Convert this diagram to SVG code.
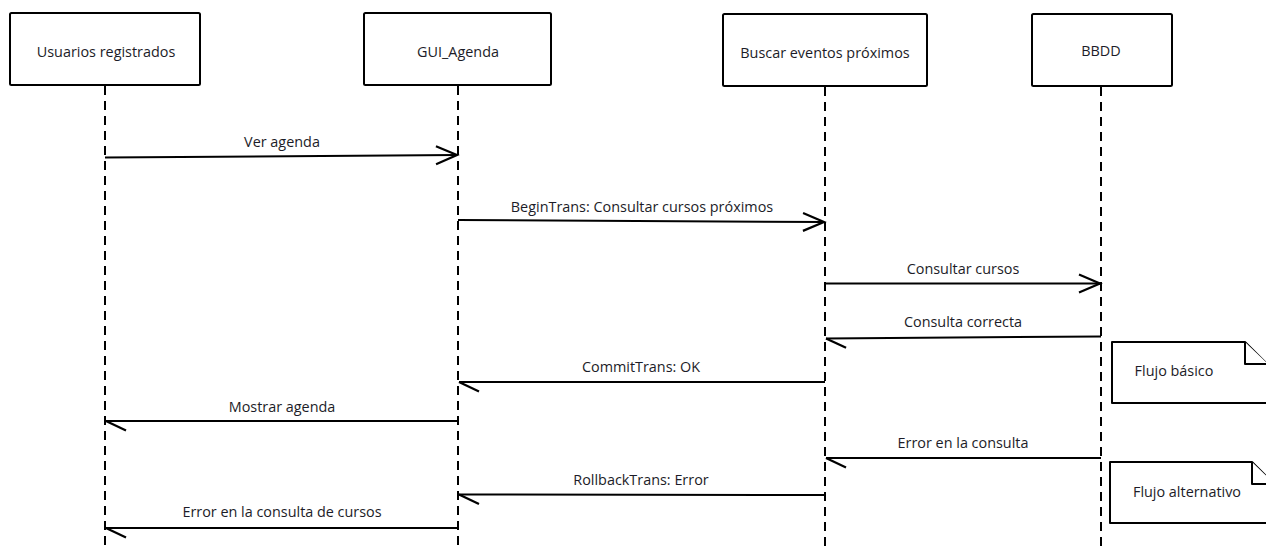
<svg xmlns="http://www.w3.org/2000/svg" width="1266" height="550" viewBox="0 0 1266 550">
<defs>
<style>
.box{fill:#fff;stroke:#000;stroke-width:2}
.life{stroke:#000;stroke-width:2;stroke-dasharray:9 6;fill:none}
.msg{stroke:#000;stroke-width:2;fill:none}
.call{marker-end:url(#open)}
.ret{marker-end:url(#half)}
text{font-family:"Open Sans","DejaVu Sans",sans-serif;font-size:14.4px;fill:#1c1c28;text-anchor:middle}
.note{fill:#fff;stroke:#000;stroke-width:2;stroke-linejoin:round}
</style>
<marker id="open" markerUnits="userSpaceOnUse" viewBox="-24 -12 26 24" refX="0" refY="0" markerWidth="26" markerHeight="24" orient="auto" overflow="visible">
<path d="M-21,-9 L0,0 L-21,9" fill="none" stroke="#000" stroke-width="2.2"/>
</marker>
<marker id="half" markerUnits="userSpaceOnUse" viewBox="-24 -12 26 24" refX="0" refY="0" markerWidth="26" markerHeight="24" orient="auto" overflow="visible">
<path d="M0,0 L-20,-9.5" fill="none" stroke="#000" stroke-width="2.2"/>
</marker>
</defs>
<rect width="1266" height="550" fill="#fff"/>

<g id="lifelines">
<line class="life" x1="105" y1="86" x2="105" y2="550"/>
<line class="life" x1="458" y1="86" x2="458" y2="550"/>
<line class="life" x1="825" y1="87" x2="825" y2="550"/>
<line class="life" x1="1101" y1="87" x2="1101" y2="550"/>
</g>

<g id="usuarios">
<rect class="box" x="10" y="13" width="190" height="72" rx="1.5"/>
<text x="106" y="57">Usuarios registrados</text>
</g>
<g id="gui_agenda">
<rect class="box" x="364" y="13" width="187" height="72" rx="1.5"/>
<text x="458" y="57">GUI_Agenda</text>
</g>
<g id="buscar">
<rect class="box" x="723" y="14" width="204" height="72" rx="1.5"/>
<text x="825" y="58">Buscar eventos próximos</text>
</g>
<g id="bbdd">
<rect class="box" x="1032" y="14" width="140" height="72" rx="1.5"/>
<text x="1101" y="56">BBDD</text>
</g>

<g id="connectors">
<path class="msg call" d="M105,157.5 L457,155"/>
<text x="282" y="147">Ver agenda</text>
<path class="msg call" d="M458,220 L824,222"/>
<text x="642" y="212">BeginTrans: Consultar cursos próximos</text>
<path class="msg call" d="M825,283.5 L1100,283.5"/>
<text x="963" y="274">Consultar cursos</text>
<path class="msg ret" d="M1101,336.5 L826,338.5"/>
<text x="963" y="327">Consulta correcta</text>
<path class="msg ret" d="M825,382 L459,382"/>
<text x="641" y="372">CommitTrans: OK</text>
<path class="msg ret" d="M458,421 L106,421"/>
<text x="282" y="412">Mostrar agenda</text>
<path class="msg ret" d="M1101,458 L826,458"/>
<text x="963" y="448">Error en la consulta</text>
<path class="msg ret" d="M825,495 L459,494.5"/>
<text x="641" y="485">RollbackTrans: Error</text>
<path class="msg ret" d="M458,528 L106,528"/>
<text x="282" y="517">Error en la consulta de cursos</text>
</g>

<g id="note_basico">
<path class="note" d="M1112,342 L1245,342 L1268,365 L1268,403 L1112,403 Z"/>
<path class="note" d="M1245,342 L1245,364 L1268,364"/>
<text x="1174" y="376">Flujo básico</text>
</g>
<g id="note_alternativo">
<path class="note" d="M1110,462 L1252,462 L1275,485 L1275,523 L1110,523 Z"/>
<path class="note" d="M1252,462 L1252,484 L1275,484"/>
<text x="1187" y="497">Flujo alternativo</text>
</g>
</svg>
